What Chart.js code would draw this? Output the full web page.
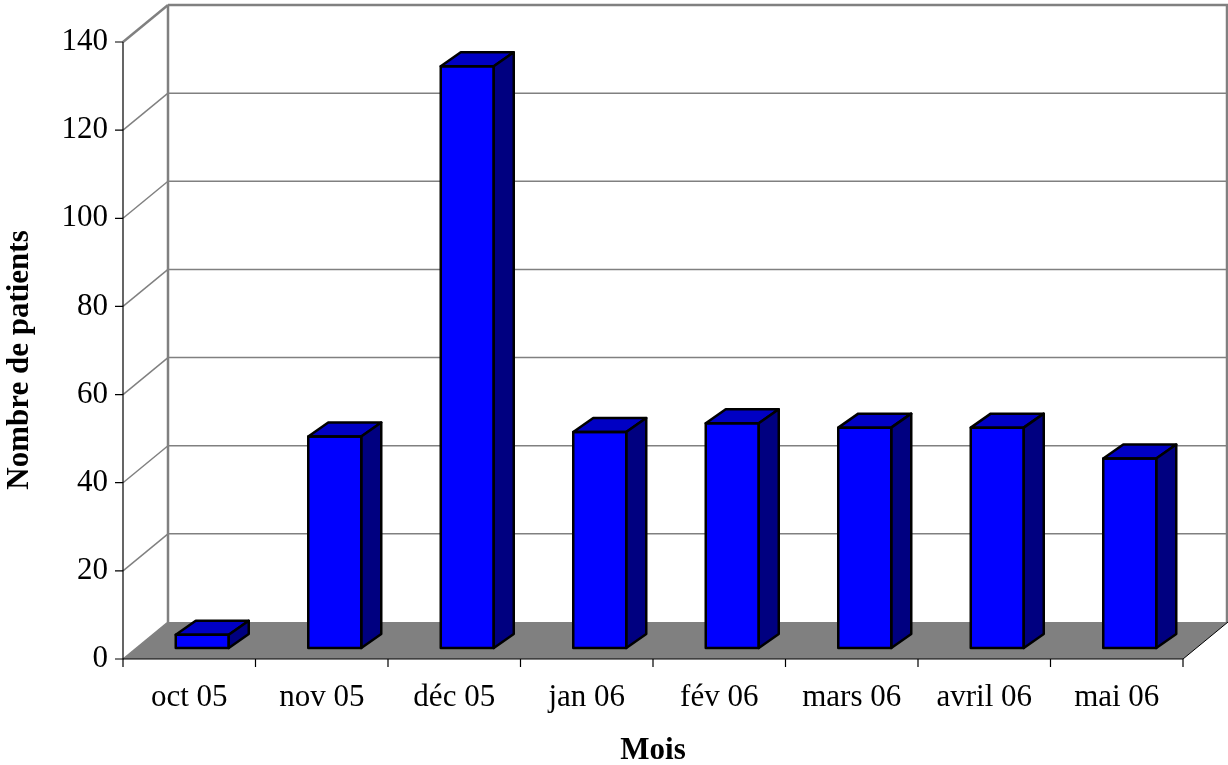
<!DOCTYPE html>
<html>
<head>
<meta charset="utf-8">
<title>Nombre de patients par mois</title>
<script src="https://cdn.jsdelivr.net/npm/chart.js@4.4.1/dist/chart.umd.min.js"></script>
<style>
  html, body { margin: 0; padding: 0; background: #ffffff; }
  #wrap { width: 1228px; height: 765px; position: relative; }
</style>
</head>
<body>
<div id="wrap"><canvas id="chart" width="1228" height="765"></canvas></div>
<script>
// Monthly patient counts
const categories = ['oct 05', 'nov 05', 'déc 05', 'jan 06', 'fév 06', 'mars 06', 'avril 06', 'mai 06'];
const patients = [3, 48, 132, 49, 51, 50, 50, 43];
const yTicks = [0, 20, 40, 60, 80, 100, 120, 140];
const yTitle = 'Nombre de patients';
const xTitle = 'Mois';

// Oblique projection offsets relative to the plane the bars stand in
const FRONT = { dx: -13, dy: 11 };   // front edge of the floor / value axis
const BACK = { dx: 32, dy: -26 };    // back wall
const DEPTH = { dx: 20, dy: -14 };   // thickness of each bar

const FONT = "'Liberation Serif', 'Times New Roman', serif";
const WALL = '#808080';

const box3d = {
  id: 'box3d',
  beforeDatasetsDraw(chart) {
    const { ctx, chartArea: a, scales: { x, y } } = chart;
    const y0 = y.getPixelForValue(yTicks[0]);
    const yMax = y.getPixelForValue(yTicks[yTicks.length - 1]);
    ctx.save();

    // floor
    ctx.fillStyle = WALL;
    ctx.beginPath();
    ctx.moveTo(a.left + FRONT.dx, y0 + FRONT.dy);
    ctx.lineTo(a.right + FRONT.dx, y0 + FRONT.dy);
    ctx.lineTo(a.right + BACK.dx, y0 + BACK.dy);
    ctx.lineTo(a.left + BACK.dx, y0 + BACK.dy);
    ctx.closePath();
    ctx.fill();

    // back wall grid and left wall grid
    ctx.strokeStyle = WALL;
    yTicks.forEach((v, i) => {
      const py = y.getPixelForValue(v);
      const edge = (i === yTicks.length - 1);
      ctx.lineWidth = edge ? 2.5 : 1.5;
      if (i > 0) {
        ctx.beginPath();
        ctx.moveTo(a.left + BACK.dx, py + BACK.dy);
        ctx.lineTo(a.right + BACK.dx, py + BACK.dy);
        ctx.stroke();
      }
      ctx.beginPath();
      ctx.moveTo(a.left + FRONT.dx, py + FRONT.dy);
      ctx.lineTo(a.left + BACK.dx, py + BACK.dy);
      ctx.stroke();
    });
    ctx.lineWidth = 2.5;
    ctx.beginPath();
    ctx.moveTo(a.left + BACK.dx, y0 + BACK.dy);
    ctx.lineTo(a.left + BACK.dx, yMax + BACK.dy);
    ctx.moveTo(a.right + BACK.dx - 1, y0 + BACK.dy);
    ctx.lineTo(a.right + BACK.dx - 1, yMax + BACK.dy);
    ctx.stroke();

    // floor outer edge
    ctx.strokeStyle = '#000000';
    ctx.lineWidth = 1;
    ctx.beginPath();
    ctx.moveTo(a.right + FRONT.dx, y0 + FRONT.dy);
    ctx.lineTo(a.right + BACK.dx, y0 + BACK.dy);
    ctx.stroke();

    // value axis
    const ax = a.left + FRONT.dx;
    ctx.lineWidth = 1.2;
    ctx.beginPath();
    ctx.moveTo(ax, y0 + FRONT.dy);
    ctx.lineTo(ax, yMax + FRONT.dy);
    yTicks.forEach(v => {
      const py = y.getPixelForValue(v) + FRONT.dy;
      ctx.moveTo(ax - 8, py);
      ctx.lineTo(ax, py);
    });
    ctx.stroke();

    // category axis
    const base = y0 + FRONT.dy;
    const step = (a.right - a.left) / categories.length;
    ctx.beginPath();
    ctx.moveTo(a.left + FRONT.dx, base);
    ctx.lineTo(a.right + FRONT.dx, base);
    for (let i = 0; i <= categories.length; i++) {
      const tx = a.left + i * step + FRONT.dx;
      ctx.moveTo(tx, base);
      ctx.lineTo(tx, base + 8);
    }
    ctx.stroke();

    // tick labels
    ctx.fillStyle = '#000000';
    ctx.font = `31px ${FONT}`;
    ctx.textAlign = 'right';
    ctx.textBaseline = 'middle';
    yTicks.forEach(v => {
      ctx.fillText(String(v), ax - 15, y.getPixelForValue(v) + FRONT.dy);
    });
    ctx.textAlign = 'center';
    categories.forEach((c, i) => {
      ctx.fillText(c, x.getPixelForValue(i) + FRONT.dx, base + 39);
    });

    // axis titles
    ctx.font = `bold 31px ${FONT}`;
    ctx.fillText(xTitle, (a.left + a.right) / 2 + FRONT.dx, base + 92);
    ctx.save();
    ctx.translate(20, 360);
    ctx.rotate(-Math.PI / 2);
    ctx.fillText(yTitle, 0, 0);
    ctx.restore();

    ctx.restore();
  },
  afterDatasetsDraw(chart) {
    const { ctx } = chart;
    const meta = chart.getDatasetMeta(0);
    ctx.save();
    ctx.strokeStyle = '#000000';
    ctx.lineWidth = 2.5;
    ctx.lineJoin = 'round';
    meta.data.forEach(bar => {
      const p = bar.getProps(['x', 'y', 'base', 'width'], true);
      const l = p.x - p.width / 2, r = p.x + p.width / 2;
      const top = p.y, bot = p.base;
      // top face
      ctx.fillStyle = '#0000C4';
      ctx.beginPath();
      ctx.moveTo(l, top);
      ctx.lineTo(r, top);
      ctx.lineTo(r + DEPTH.dx, top + DEPTH.dy);
      ctx.lineTo(l + DEPTH.dx, top + DEPTH.dy);
      ctx.closePath();
      ctx.fill();
      ctx.stroke();
      // side face
      ctx.fillStyle = '#000080';
      ctx.beginPath();
      ctx.moveTo(r, top);
      ctx.lineTo(r + DEPTH.dx, top + DEPTH.dy);
      ctx.lineTo(r + DEPTH.dx, bot + DEPTH.dy);
      ctx.lineTo(r, bot);
      ctx.closePath();
      ctx.fill();
      ctx.stroke();
      // front face outline
      ctx.strokeRect(l, top, r - l, bot - top);
    });
    ctx.restore();
  }
};

new Chart(document.getElementById('chart'), {
  type: 'bar',
  data: {
    labels: categories,
    datasets: [{
      data: patients,
      backgroundColor: '#0000FF',
      borderWidth: 0,
      barPercentage: 0.4,
      categoryPercentage: 1.0
    }]
  },
  options: {
    responsive: false,
    animation: false,
    layout: { padding: { left: 136, right: 32, top: 31, bottom: 117 } },
    plugins: { legend: { display: false }, tooltip: { enabled: false } },
    scales: {
      x: { display: false, offset: true },
      y: { display: false, min: 0, max: 140 }
    }
  },
  plugins: [box3d]
});
</script>
</body>
</html>
